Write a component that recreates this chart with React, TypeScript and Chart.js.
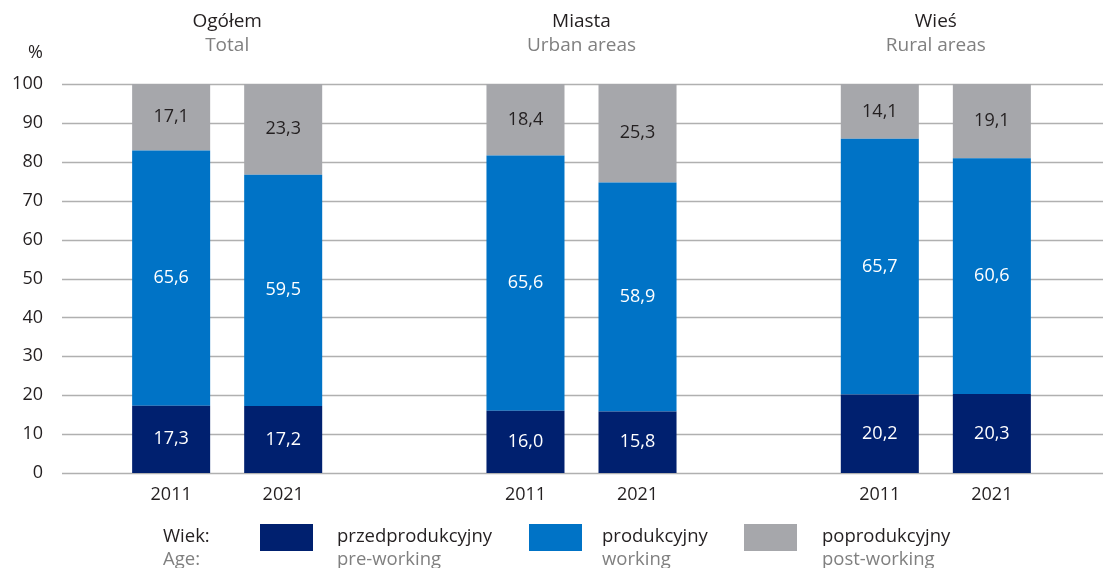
import React, { useEffect, useRef } from "react";
import { Chart, registerables } from "chart.js";

Chart.register(...registerables);

const groupsPl = ["Ogółem", "Miasta", "Wieś"];
const groupsEn = ["Total", "Urban areas", "Rural areas"];
const years = ["2011", "2021"];
const agePl = ["przedprodukcyjny", "produkcyjny", "poprodukcyjny"];
const ageEn = ["pre-working", "working", "post-working"];

// values per group [Ogółem, Miasta, Wieś]
const pre2011 = [17.3, 16.0, 20.2];
const work2011 = [65.6, 65.6, 65.7];
const post2011 = [17.1, 18.4, 14.1];
const pre2021 = [17.2, 15.8, 20.3];
const work2021 = [59.5, 58.9, 60.6];
const post2021 = [23.3, 25.3, 19.1];

const yTicks = [0, 10, 20, 30, 40, 50, 60, 70, 80, 90, 100];

const COLORS = ["#00206f", "#0073c6", "#a6a7ab"];
const FONT = "'Open Sans', 'Noto Sans', sans-serif";
const DARK = "#231f20";
const GREY_TXT = "#808080";

export default function App() {
  const ref = useRef<HTMLCanvasElement | null>(null);

  useEffect(() => {
    if (!ref.current) return;
    const series2011 = [pre2011, work2011, post2011];
    const series2021 = [pre2021, work2021, post2021];
    const datasets: any[] = [];
    [series2011, series2021].forEach((ser, yi) => {
      ser.forEach((vals, ai) => {
        datasets.push({
          label: agePl[ai] + " " + years[yi],
          data: vals,
          backgroundColor: COLORS[ai],
          stack: years[yi],
          categoryPercentage: 0.6324,
          barPercentage: 0.6964,
          borderWidth: 0,
          _age: ai,
          _year: yi,
        });
      });
    });

    const gridPlugin = {
      id: "customGrid",
      beforeDatasetsDraw(chart: any) {
        const { ctx, chartArea, scales } = chart;
        ctx.save();
        ctx.strokeStyle = "#b0b0b0";
        ctx.lineWidth = 1.3;
        yTicks.forEach((v) => {
          const py = Math.round(scales.y.getPixelForValue(v)) + 0.5;
          ctx.beginPath();
          ctx.moveTo(chartArea.left + 12, py);
          ctx.lineTo(chartArea.right, py);
          ctx.stroke();
        });
        ctx.restore();
      },
    };

    const textPlugin = {
      id: "customText",
      afterDatasetsDraw(chart: any) {
        const { ctx, scales, chartArea } = chart;
        ctx.save();
        ctx.textBaseline = "middle";
        ctx.textAlign = "center";
        ctx.font = `18px ${FONT}`;
        // value labels
        chart.data.datasets.forEach((ds: any, di: number) => {
          const meta = chart.getDatasetMeta(di);
          meta.data.forEach((el: any, i: number) => {
            const v = ds.data[i];
            const cy = (el.y + el.base) / 2;
            ctx.fillStyle = ds._age === 2 ? DARK : "#ffffff";
            ctx.fillText(v.toFixed(1).replace(".", ","), el.x, cy);
          });
        });
        // year labels
        ctx.fillStyle = DARK;
        chart.data.datasets.forEach((ds: any, di: number) => {
          if (ds._age !== 0) return;
          const meta = chart.getDatasetMeta(di);
          meta.data.forEach((el: any) => {
            ctx.fillText(years[ds._year], el.x, 495);
          });
        });
        // group titles
        ctx.font = `19px ${FONT}`;
        groupsPl.forEach((g, i) => {
          const px = scales.x.getPixelForValue(i);
          ctx.fillStyle = DARK;
          ctx.fillText(g, px, 22);
          ctx.fillStyle = GREY_TXT;
          ctx.fillText(groupsEn[i], px, 46);
        });
        // percent sign
        ctx.font = `18px ${FONT}`;
        ctx.textAlign = "right";
        ctx.fillStyle = DARK;
        ctx.fillText("%", chartArea.left - 7, 53);
        // legend
        ctx.textAlign = "left";
        ctx.font = `18.5px ${FONT}`;
        ctx.fillStyle = DARK;
        ctx.fillText("Wiek:", 163, 537);
        ctx.fillStyle = GREY_TXT;
        ctx.fillText("Age:", 163, 560);
        const boxX = [260, 529, 744];
        const txtX = [337, 602, 822];
        agePl.forEach((a, i) => {
          ctx.fillStyle = COLORS[i];
          ctx.fillRect(boxX[i], 524, 53, 27);
          ctx.fillStyle = DARK;
          ctx.fillText(a, txtX[i], 537);
          ctx.fillStyle = GREY_TXT;
          ctx.fillText(ageEn[i], txtX[i], 560);
        });
        ctx.restore();
      },
    };

    const chart = new Chart(ref.current, {
      type: "bar",
      data: { labels: groupsPl, datasets },
      options: {
        responsive: false,
        animation: false,
        layout: { padding: { top: 84, bottom: 95, left: 0, right: 0 } },
        plugins: { legend: { display: false }, tooltip: { enabled: false } },
        scales: {
          x: {
            stacked: true,
            display: false,
            grid: { display: false },
          },
          y: {
            stacked: true,
            min: 0,
            max: 100,
            afterFit(scale: any) {
              scale.width = 50;
            },
            afterBuildTicks(scale: any) {
              scale.ticks = yTicks.map((v) => ({ value: v }));
            },
            grid: { display: false, drawTicks: false },
            border: { display: false },
            ticks: {
              padding: 7,
              color: DARK,
              font: { family: FONT, size: 18 },
            },
          },
        },
      },
      plugins: [gridPlugin, textPlugin],
    } as any);
    return () => chart.destroy();
  }, []);

  return (
    <div
      style={{
        position: "fixed",
        left: 0,
        top: 0,
        width: 1103,
        height: 568,
        overflow: "hidden",
        background: "#fff",
      }}
    >
      <canvas ref={ref} width={1113} height={568} style={{ display: "block" }} />
    </div>
  );
}
